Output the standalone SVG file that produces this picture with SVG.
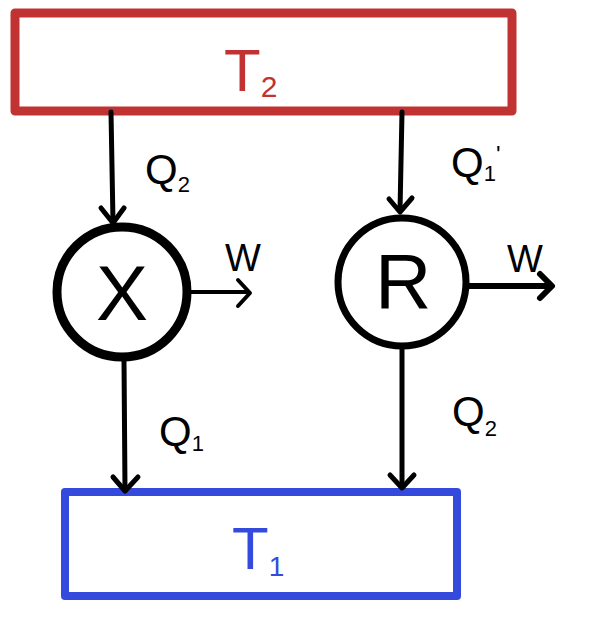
<svg xmlns="http://www.w3.org/2000/svg" width="596" height="626" viewBox="0 0 596 626">
<style>
.lbl{font-family:"Liberation Sans",Arial,sans-serif;fill:#000}
.big{font-family:"Liberation Sans",Arial,sans-serif;font-size:78px;fill:#000}
.ln{stroke:#000;stroke-width:5;fill:none;stroke-linecap:round;stroke-linejoin:round}
.hd{stroke:#000;stroke-width:5;fill:none;stroke-linecap:round;stroke-linejoin:round}
</style>
<rect width="596" height="626" fill="#fff"/>
<g id="T2">
<rect x="15" y="13" width="497" height="98" fill="none" stroke="#C13333" stroke-width="9" stroke-linejoin="round"/>
<text x="224" y="91" font-family="Liberation Sans,Arial,sans-serif" font-size="60" fill="#C13333">T<tspan font-size="30" dy="6">2</tspan></text>
</g>
<g id="T1">
<rect x="65" y="492" width="392" height="104" fill="none" stroke="#334ADD" stroke-width="8" stroke-linejoin="round"/>
<text x="232" y="569" font-family="Liberation Sans,Arial,sans-serif" font-size="60" fill="#334ADD">T<tspan font-size="28" dy="7">1</tspan></text>
</g>
<g id="X">
<circle cx="122" cy="292" r="65" fill="none" stroke="#000" stroke-width="9"/>
<text class="big" x="96" y="320">X</text>
</g>
<g id="R">
<circle cx="402" cy="282" r="64" fill="none" stroke="#000" stroke-width="7"/>
<text class="big" x="375" y="308">R</text>
</g>
<g id="connectors">
<path class="ln" d="M111 112 L113 222"/>
<path class="hd" d="M101 208 L113 223 L124 208"/>
<path class="ln" d="M402 112 L400 211"/>
<path class="hd" d="M389 199 L400 212 L412 198"/>
<path class="ln" d="M191 292 L247 292" style="stroke-width:4"/>
<path class="hd" d="M238 280 L250 293 L238 306" style="stroke-width:4"/>
<path class="ln" d="M468 286 L550 286" style="stroke-width:6"/>
<path class="hd" d="M540 274 L552 286 L540 298" style="stroke-width:6"/>
<path class="ln" d="M124 360 L125 490"/>
<path class="hd" d="M113 477 L125 491 L138 477"/>
<path class="ln" d="M402 348 L402 486"/>
<path class="hd" d="M390 475 L402 488 L414 475"/>
</g>
<g id="labels">
<text class="lbl" x="145" y="184" font-size="42">Q<tspan font-size="22" dy="8">2</tspan></text>
<text class="lbl" x="451" y="177" font-size="42">Q<tspan font-size="22" dy="4">1</tspan><tspan dy="-18" font-size="24">'</tspan></text>
<text class="lbl" x="225" y="271" font-size="38">W</text>
<text class="lbl" x="507" y="272" font-size="38">W</text>
<text class="lbl" x="159" y="446" font-size="42">Q<tspan font-size="22" dy="5">1</tspan></text>
<text class="lbl" x="452" y="426" font-size="42">Q<tspan font-size="22" dy="10">2</tspan></text>
</g>
</svg>
